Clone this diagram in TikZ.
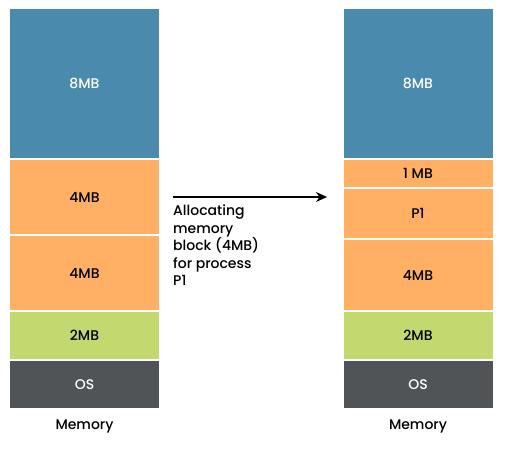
\documentclass[tikz,border=0pt]{standalone}
\usepackage{fontspec}
\setmainfont{Poppins}[UprightFont=* Medium]
\usetikzlibrary{positioning,arrows.meta}

\definecolor{memblue}{HTML}{4A8BAD}
\definecolor{memorange}{HTML}{FFB064}
\definecolor{memgreen}{HTML}{C3D96F}
\definecolor{memgray}{HTML}{505456}

\begin{document}
\begin{tikzpicture}[x=1pt,y=-1pt,>={Stealth[length=11pt,width=10pt]},
  block/.style={rectangle,draw=white,line width=1pt,minimum width=150pt,inner sep=0pt,
    font=\fontsize{14}{16}\selectfont},
  caption/.style={inner sep=0pt,font=\fontsize{14}{16}\selectfont}]

 \useasboundingbox (0,0) rectangle (511,450);

 % memory before
 \node[block,fill=memblue,text=white,minimum height=150pt] (l8) at (84.5,83.5) {8MB};
 \node[block,fill=memorange,minimum height=75pt] (l4a) [below=0pt of l8] {4MB};
 \node[block,fill=memorange,minimum height=75pt] (l4b) [below=0pt of l4a] {4MB};
 \node[block,fill=memgreen,minimum height=48pt] (l2) [below=0pt of l4b] {2MB};
 \node[block,fill=memgray,text=white,minimum height=48pt] (los) [below=0pt of l2] {OS};
 \node[caption] (lmem) [below=11pt of los] {Memory};

 % memory after
 \node[block,fill=memblue,text=white,minimum height=150pt] (r8) at (418,83.5) {8MB};
 \node[block,fill=memorange,minimum height=28pt] (r1) [below=0pt of r8] {1 MB};
 \node[block,fill=memorange,minimum height=50pt] (rp1) [below=0pt of r1] {P1};
 \node[block,fill=memorange,minimum height=71pt] (r4) [below=0pt of rp1] {4MB};
 \node[block,fill=memgreen,minimum height=48pt] (r2) [below=0pt of r4] {2MB};
 \node[block,fill=memgray,text=white,minimum height=48pt] (ros) [below=0pt of r2] {OS};
 \node[caption] (rmem) [below=11pt of ros] {Memory};

 % allocation step
 \coordinate (from) at (173,197);
 \coordinate (to) at (327,197);
 \draw[->,line width=1.4pt] (from) -- (to);
 \node[caption,align=left,font=\fontsize{14}{17.5}\selectfont] (note) [below right=8pt and 0pt of from]
   {Allocating\\memory\\block (4MB)\\for process\\P1};

\end{tikzpicture}
\end{document}
